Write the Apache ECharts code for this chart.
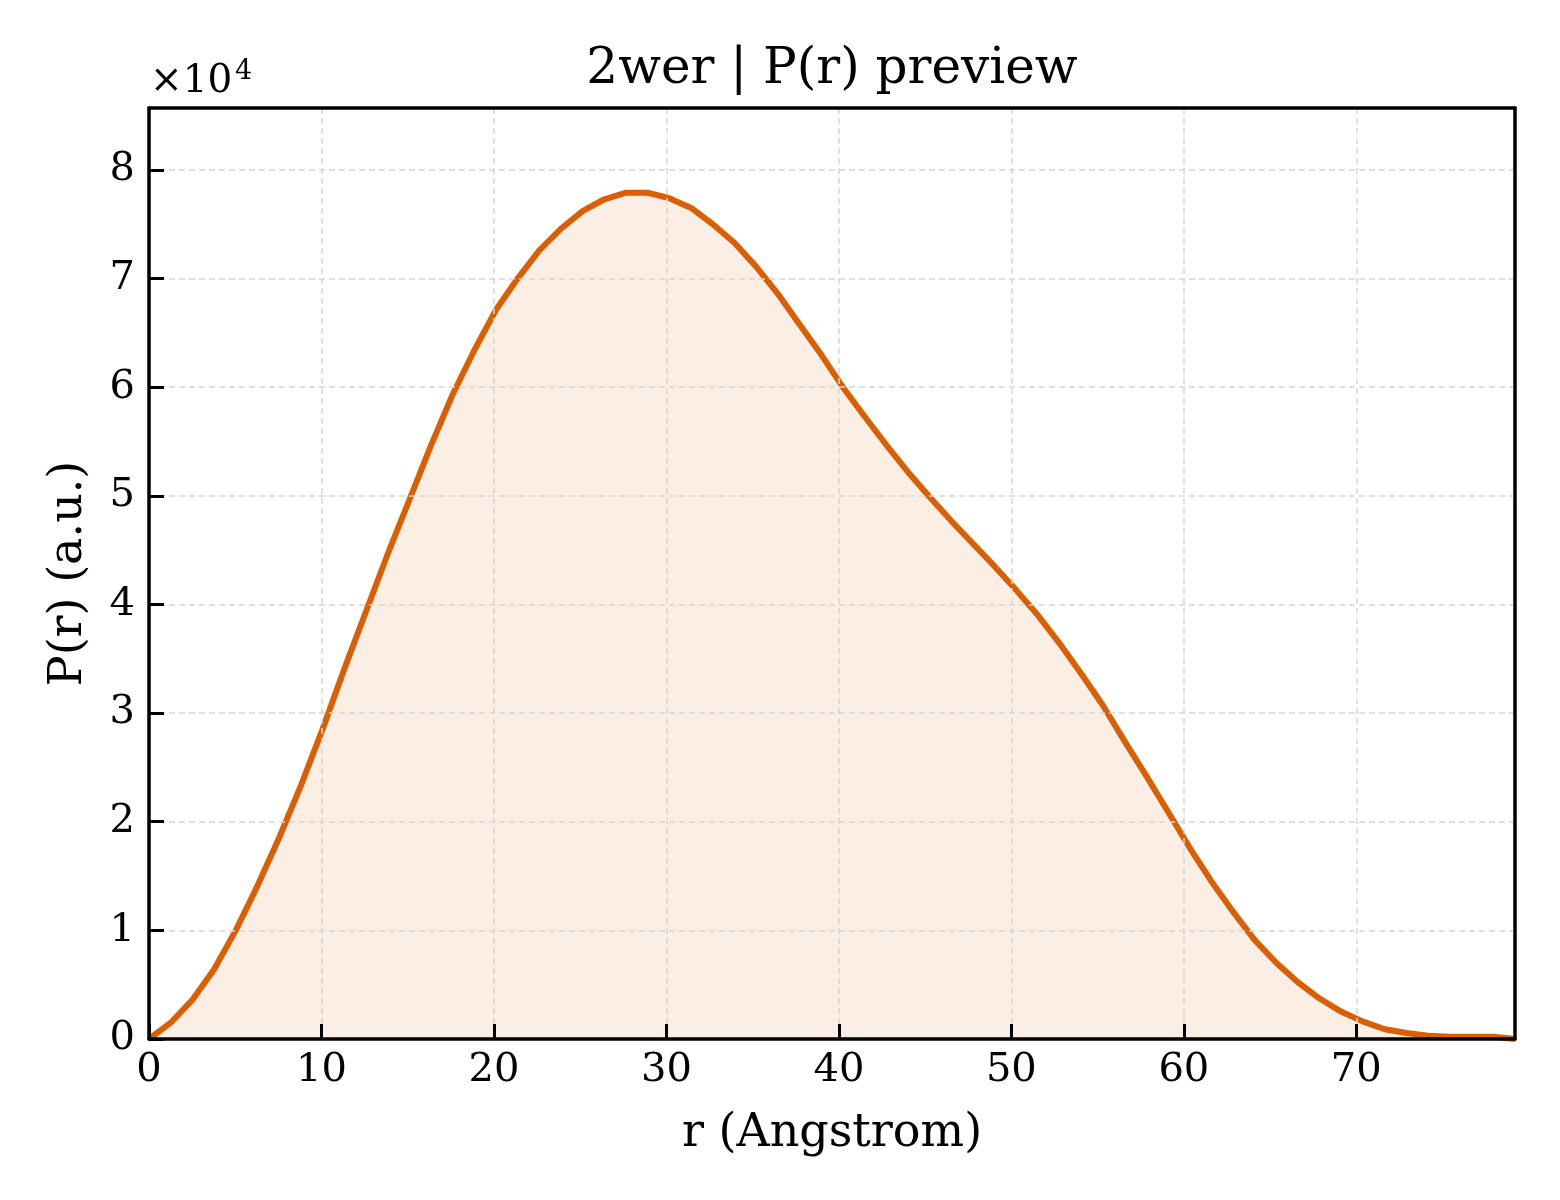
<!DOCTYPE html>
<html>
<head>
<meta charset="utf-8">
<script src="https://cdn.jsdelivr.net/npm/echarts@6/dist/echarts.min.js"></script>
<style>
  html, body { margin: 0; padding: 0; background: #fff; }
  #container { width: 1560px; height: 1200px; }
</style>
</head>
<body>
<div id="container"></div>
<script>
var dom = document.getElementById("container");
var myChart = echarts.init(dom);

// r values (Angstrom)
var rValues = [
  0.00, 1.26, 2.51, 3.77, 5.03, 6.29, 7.54, 8.80, 10.06, 11.31,
  12.57, 13.83, 15.09, 16.34, 17.60, 18.86, 20.11, 21.37, 22.63, 23.89,
  25.14, 26.40, 27.66, 28.91, 30.17, 31.43, 32.69, 33.94, 35.20, 36.46,
  37.71, 38.97, 40.23, 41.49, 42.74, 44.00, 45.26, 46.51, 47.77, 49.03,
  50.29, 51.54, 52.80, 54.06, 55.31, 56.57, 57.83, 59.09, 60.34, 61.60,
  62.86, 64.11, 65.37, 66.63, 67.89, 69.14, 70.40, 71.66, 72.91, 74.17,
  75.43, 76.69, 77.94, 79.20
];

// P(r) values
var prValues = [
  0, 1500, 3600, 6400, 10000, 14100, 18500, 23300, 28500, 34000,
  39300, 44600, 49600, 54600, 59300, 63400, 67100, 70000, 72600, 74600,
  76200, 77300, 77900, 77900, 77400, 76500, 75000, 73300, 71100, 68600,
  65800, 63000, 60000, 57300, 54700, 52200, 49900, 47700, 45600, 43500,
  41300, 39000, 36400, 33600, 30700, 27400, 24200, 20900, 17600, 14500,
  11700, 9100, 7000, 5200, 3700, 2500, 1600, 900, 550, 300,
  200, 200, 200, 0
];

var lineColor = "#d95f02";
var fontFamily = "DejaVu Serif";
var xMax = 79.2;
var yMax = 85700;

var seriesData = [];
for (var i = 0; i < rValues.length; i++) {
  seriesData.push([rValues[i], prValues[i]]);
}

var gridLine = { show: true, lineStyle: { color: "#d6d6d6", type: [6, 4], width: 1.5 } };
var frameLine = { show: true, onZero: false, lineStyle: { color: "#000", width: 3.5 } };
var inTick = { show: true, inside: true, length: 15, lineStyle: { color: "#000", width: 3 } };

var option = {
  animation: false,
  textStyle: { fontFamily: fontFamily },
  title: {
    text: "2wer | P(r) preview",
    left: 827,
    top: 40,
    textAlign: "center",
    textStyle: { fontFamily: fontFamily, fontSize: 50, fontWeight: "normal", color: "#000" }
  },
  graphic: [
    {
      type: "text",
      left: 150,
      top: 62,
      style: { text: "×10", font: "39px DejaVu Serif", fill: "#000" }
    },
    {
      type: "text",
      left: 235,
      top: 58,
      style: { text: "4", font: "27px DejaVu Serif", fill: "#000" }
    }
  ],
  grid: {
    left: 149,
    right: 45,
    top: 108,
    bottom: 161,
    show: false
  },
  xAxis: [
    {
      type: "value",
      min: 0,
      max: xMax,
      interval: 10,
      name: "r (Angstrom)",
      nameLocation: "middle",
      nameGap: 72,
      nameTextStyle: { fontFamily: fontFamily, fontSize: 46, color: "#000" },
      axisLine: frameLine,
      axisTick: inTick,
      axisLabel: {
        showMaxLabel: false,
        margin: 12,
        fontFamily: fontFamily,
        fontSize: 40,
        color: "#000"
      },
      splitLine: gridLine,
      z: 5
    },
    {
      type: "value",
      position: "top",
      min: 0,
      max: xMax,
      interval: 10,
      axisLine: frameLine,
      axisTick: { show: false },
      axisLabel: { show: false },
      splitLine: { show: false },
      z: 5
    }
  ],
  yAxis: [
    {
      type: "value",
      min: 0,
      max: yMax,
      interval: 10000,
      name: "P(r) (a.u.)",
      nameLocation: "middle",
      nameGap: 57,
      nameTextStyle: { fontFamily: fontFamily, fontSize: 46, color: "#000" },
      axisLine: frameLine,
      axisTick: inTick,
      axisLabel: {
        showMaxLabel: false,
        margin: 14,
        fontFamily: fontFamily,
        fontSize: 40,
        color: "#000",
        formatter: function (v) { return String(v / 10000); }
      },
      splitLine: gridLine,
      z: 5
    },
    {
      type: "value",
      position: "right",
      min: 0,
      max: yMax,
      interval: 10000,
      axisLine: frameLine,
      axisTick: { show: false },
      axisLabel: { show: false },
      splitLine: { show: false },
      z: 5
    }
  ],
  series: [
    {
      type: "line",
      data: seriesData,
      showSymbol: false,
      smooth: false,
      clip: true,
      lineStyle: { color: lineColor, width: 6 },
      areaStyle: { color: "rgba(217,95,2,0.15)" },
      z: 3
    }
  ]
};

myChart.setOption(option);
</script>
</body>
</html>
